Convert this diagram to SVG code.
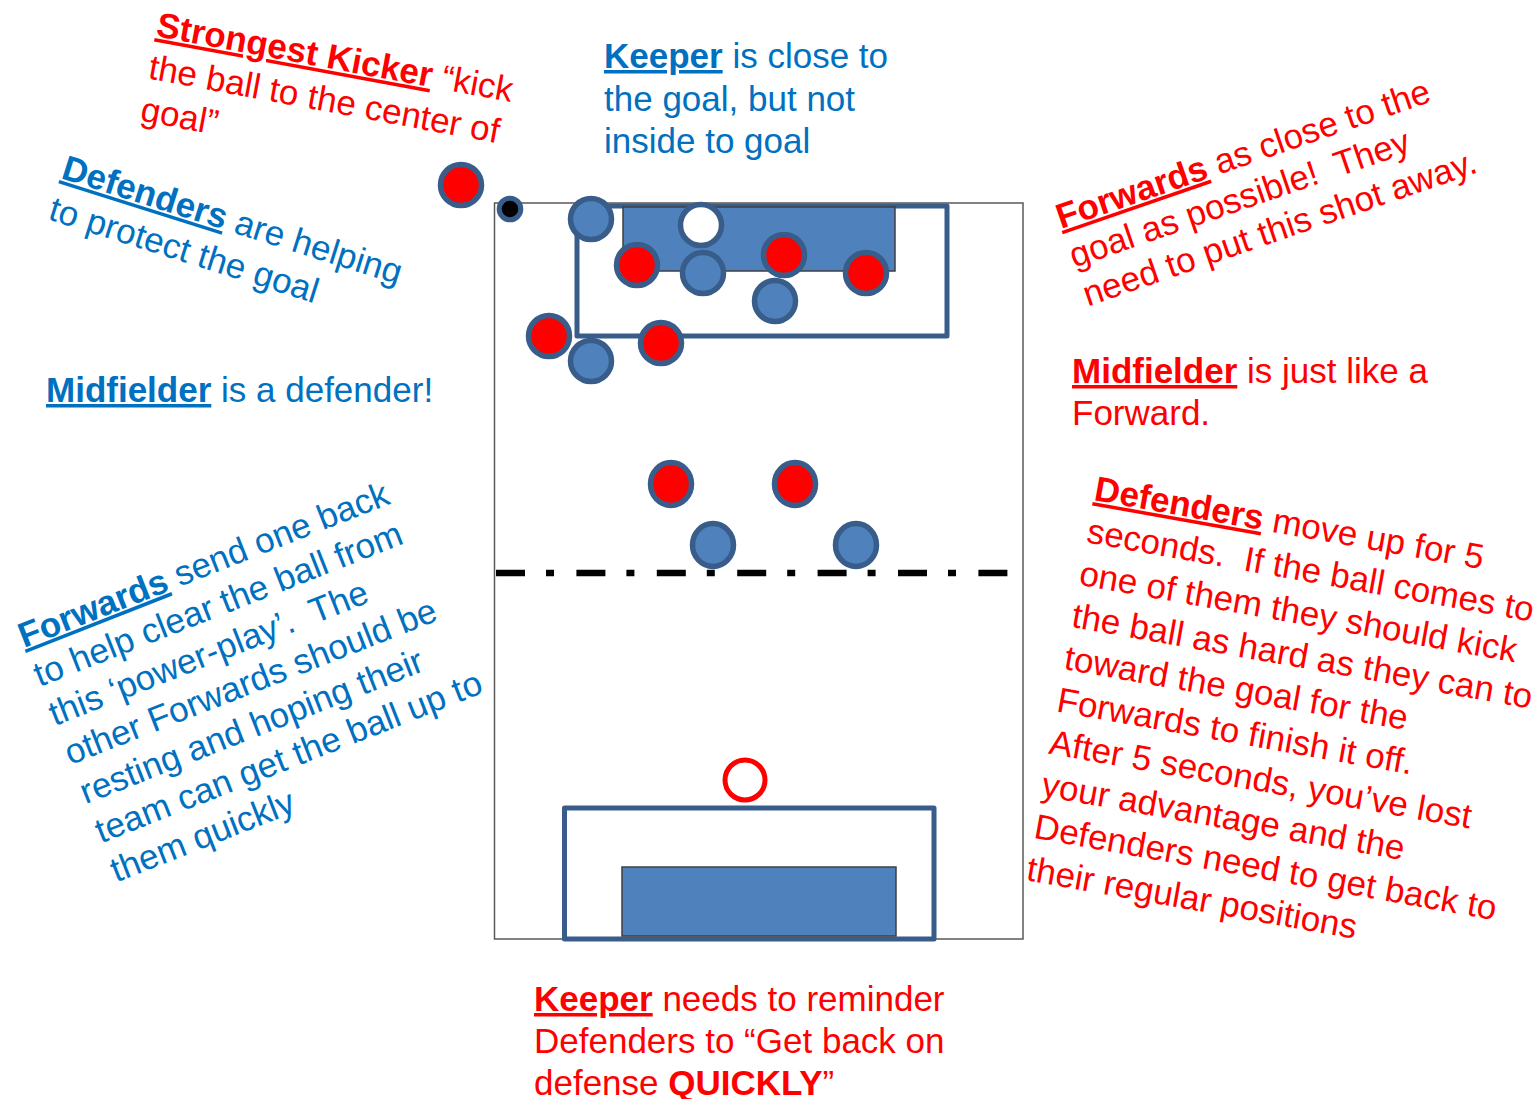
<svg xmlns="http://www.w3.org/2000/svg" width="1538" height="1099" viewBox="0 0 1538 1099">
<style>
text{font-family:"Liberation Sans",Arial,sans-serif;font-size:35px;white-space:pre}
.b{fill:#0070C0}
.r{fill:#FF0000}
.u{font-weight:bold;text-decoration:underline}
.bo{font-weight:bold}
.box{fill:none;stroke:#385D8A;stroke-width:5;stroke-linejoin:round}
.goal{fill:#4F81BD;stroke:#3F3F3F;stroke-width:1.5}
.pb{fill:#4F81BD;stroke:#385D8A;stroke-width:5.5}
.pr{fill:#FF0000;stroke:#385D8A;stroke-width:5.5}
.pw{fill:#FFFFFF;stroke:#385D8A;stroke-width:5.5}
</style>
<rect width="1538" height="1099" fill="#FFFFFF"/>
<g id="field">
<rect x="494.5" y="203" width="528.5" height="736" fill="#FFFFFF" stroke="#595959" stroke-width="1.5"/>
<line x1="496" y1="573" x2="1008" y2="573" stroke="#000000" stroke-width="6.5" stroke-dasharray="29 21 8 22.4"/>
</g>
<g id="top-goal">
<rect class="box" x="577" y="206" width="370" height="130"/>
<rect class="goal" x="623" y="207" width="272" height="64"/>
</g>
<g id="bottom-goal">
<rect class="box" x="564.5" y="808" width="369.5" height="131"/>
<rect class="goal" x="622" y="867" width="274" height="69"/>
</g>
<g id="players">
<circle class="pr" cx="461" cy="185" r="20.5"/>
<circle cx="510" cy="209" r="10.8" fill="#000000" stroke="#385D8A" stroke-width="5"/>
<circle class="pb" cx="591" cy="219" r="20.5"/>
<circle class="pw" cx="701" cy="225" r="20.5"/>
<circle class="pr" cx="637" cy="265" r="20.5"/>
<circle class="pb" cx="703" cy="273" r="20.5"/>
<circle class="pr" cx="784" cy="255" r="20.5"/>
<circle class="pr" cx="866" cy="273" r="20.5"/>
<circle class="pb" cx="775" cy="301" r="20.5"/>
<circle class="pr" cx="549" cy="336" r="20.5"/>
<circle class="pb" cx="591" cy="361" r="20.5"/>
<circle class="pr" cx="661" cy="343" r="20.5"/>
<ellipse class="pr" cx="671" cy="484" rx="20.5" ry="21.5"/>
<ellipse class="pr" cx="795" cy="484" rx="20.5" ry="21.5"/>
<ellipse class="pb" cx="713" cy="545" rx="20.5" ry="21.5"/>
<ellipse class="pb" cx="856" cy="545" rx="20.5" ry="21.5"/>
<circle cx="745" cy="780" r="20" fill="none" stroke="#FF0000" stroke-width="5"/>
</g>
<g id="connectors"></g>
<g id="note-strongest-kicker" class="r" transform="translate(155,36) rotate(10.5)">
<text class="r"><tspan class="u">Strongest Kicker</tspan> “kick</text>
<text class="r" y="43">the ball to the center of</text>
<text class="r" y="86">goal”</text>
</g>
<g id="note-defenders-blue" transform="translate(60,178) rotate(17.5)">
<text class="b"><tspan class="u">Defenders</tspan> are helping</text>
<text class="b" y="43">to protect the goal</text>
</g>
<g id="note-midfielder-blue">
<text class="b" x="46" y="402"><tspan class="u">Midfielder</tspan> is a defender!</text>
</g>
<g id="note-keeper-top">
<text class="b" x="604" y="68"><tspan class="u">Keeper</tspan> is close to</text>
<text class="b" x="604" y="111">the goal, but not</text>
<text class="b" x="604" y="153">inside to goal</text>
</g>
<g id="note-forwards-red" transform="translate(1061,229) rotate(-19)">
<text class="r"><tspan class="u">Forwards</tspan> as close to the</text>
<text class="r" y="41">goal as possible!  They</text>
<text class="r" y="82">need to put this shot away.</text>
</g>
<g id="note-midfielder-red">
<text class="r" x="1072" y="383"><tspan class="u">Midfielder</tspan> is just like a</text>
<text class="r" x="1072" y="425">Forward.</text>
</g>
<g id="note-forwards-blue" transform="translate(24,648) rotate(-21.5)">
<text class="b"><tspan class="u">Forwards</tspan> send one back</text>
<text class="b" y="42">to help clear the ball from</text>
<text class="b" y="84">this ‘power-play’.  The</text>
<text class="b" y="126">other Forwards should be</text>
<text class="b" y="168">resting and hoping their</text>
<text class="b" y="210">team can get the ball up to</text>
<text class="b" y="252">them quickly</text>
</g>
<g id="note-defenders-red" transform="translate(1093,500) rotate(10.1)">
<text class="r"><tspan class="u">Defenders</tspan> move up for 5</text>
<text class="r" y="42.9">seconds.  If the ball comes to</text>
<text class="r" y="85.8">one of them they should kick</text>
<text class="r" y="128.7">the ball as hard as they can to</text>
<text class="r" y="171.6">toward the goal for the</text>
<text class="r" y="214.5">Forwards to finish it off.</text>
<text class="r" y="257.4">After 5 seconds, you’ve lost</text>
<text class="r" y="300.3">your advantage and the</text>
<text class="r" y="343.2">Defenders need to get back to</text>
<text class="r" y="386.1">their regular positions</text>
</g>
<g id="note-keeper-bottom">
<text class="r" x="534" y="1011"><tspan class="u">Keeper</tspan> needs to reminder</text>
<text class="r" x="534" y="1053">Defenders to “Get back on</text>
<text class="r" x="534" y="1095">defense <tspan class="bo">QUICKLY</tspan>”</text>
</g>
</svg>
